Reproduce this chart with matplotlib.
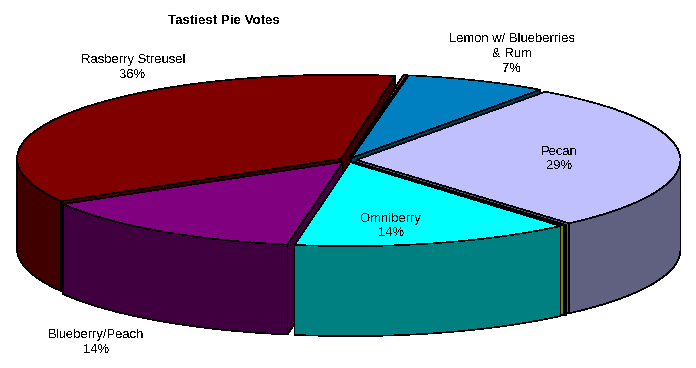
import numpy as np
import matplotlib
matplotlib.use("Agg")
import matplotlib.pyplot as plt
from matplotlib.patches import Polygon

plt.rcParams['font.family'] = ['Liberation Sans', 'DejaVu Sans']
plt.rcParams['text.antialiased'] = False

# ---- data (clockwise from the start angle) in percent ----
categories = ["", "Lemon w/ Blueberries\n& Rum", "Pecan", "", "Omniberry", "Blueberry/Peach", "Rasberry Streusel"]
votes = [0.17, 7.1, 28.8, 0.15, 14.05, 13.9, 36.2]
percent_labels = ["", "7%", "29%", "", "14%", "14%", "36%"]
top_colors = ["#A04850", "#0080C0", "#C0C0FF", "#A0A000", "#00FFFF", "#800080", "#800000"]
side_colors = ["#602830", "#004060", "#606080", "#808000", "#008080", "#400040", "#400000"]

# ---- layout ----
CX, CY = 348.0, 160.0
RX, RY = 324.0, 84.0
DEPTH = 90.0
EXPLODE = 0.026
START = 9.6
label_xy = [None, (512, 54), (559, 159), None, (391, 226), (96, 342.5), (133, 67.5)]
draw_order = [6, 0, 1, 2, 3, 5, 4]

fig = plt.figure(figsize=(6.96, 3.68), dpi=100, facecolor="white")
ax = fig.add_axes([0, 0, 1, 1])
ax.set_xlim(0, 696)
ax.set_ylim(368, 0)
ax.axis("off")


def project(t_deg, r, mid_deg, explode, dz=0.0):
    t = np.radians(t_deg)
    m = np.radians(mid_deg)
    x = CX + RX * (r * np.sin(t) + explode * np.sin(m))
    y = CY + RY * (-r * np.cos(t) - explode * np.cos(m)) + dz
    return np.column_stack([np.atleast_1d(x), np.atleast_1d(y)])


def poly(pts, face, z):
    ax.add_patch(Polygon(pts, closed=True, facecolor=face, edgecolor="black",
                         linewidth=0.45, joinstyle="round", antialiased=False, zorder=z))


fractions = np.array(votes, dtype=float) / sum(votes)
edges = START + 360 * np.concatenate([[0], np.cumsum(fractions)])

z = 1
for i in draw_order:
    t0, t1 = edges[i], edges[i + 1]
    mid = (t0 + t1) / 2
    apex = project(t0, 0, mid, EXPLODE)
    apex_b = project(t0, 0, mid, EXPLODE, DEPTH)

    # radial walls that face the viewer
    for t, normal in ((t0, t0 - 90), (t1, t1 + 90)):
        if -np.cos(np.radians(normal)) > 0:
            e = project(t, 1, mid, EXPLODE)
            e_b = project(t, 1, mid, EXPLODE, DEPTH)
            poly(np.vstack([apex, e, e_b, apex_b]), side_colors[i], z)
            z += 1

    # outer rim, only where it faces the viewer (90..270 degrees)
    lo, hi = max(t0, 90), min(t1, 270)
    if hi > lo:
        ts = np.linspace(lo, hi, 60)
        top = project(ts, 1, mid, EXPLODE)
        bot = project(ts, 1, mid, EXPLODE, DEPTH)
        poly(np.vstack([top, bot[::-1]]), side_colors[i], z)
        z += 1

    # top face
    ts = np.linspace(t0, t1, 120)
    poly(np.vstack([apex, project(ts, 1, mid, EXPLODE)]), top_colors[i], z)
    z += 1

for name, pct, xy in zip(categories, percent_labels, label_xy):
    if xy is not None:
        ax.text(xy[0], xy[1], f"{name}\n{pct}", ha="center", va="center",
                fontsize=9.4, color="black", linespacing=1.32, zorder=100)

ax.text(224, 20.5, "Tastiest Pie Votes", ha="center", va="center",
        fontsize=9.6, fontweight="bold", color="black", zorder=100)

fig.savefig("out.png", dpi=100, facecolor="white")
